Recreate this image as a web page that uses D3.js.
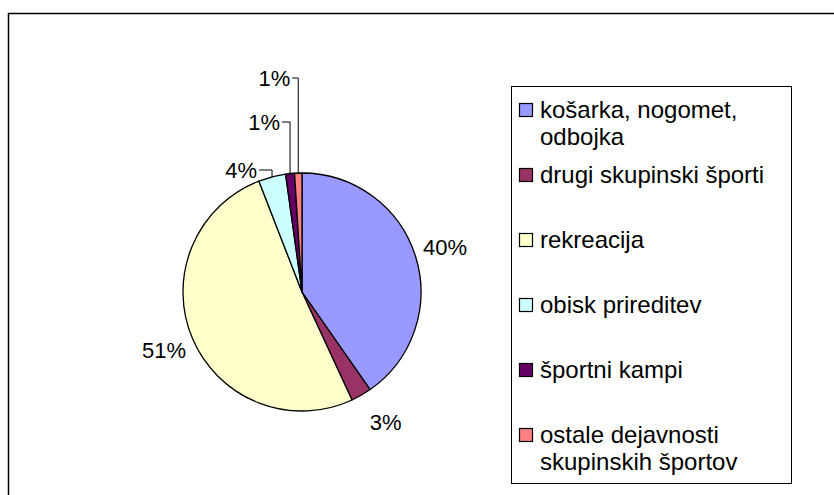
<!DOCTYPE html>
<html>
<head>
<meta charset="utf-8">
<script src="https://cdn.jsdelivr.net/npm/d3@7"></script>
<style>
  body { margin: 0; background: #fff; }
  svg text { font-family: "Liberation Sans", Arial, sans-serif; fill: #000; }
</style>
</head>
<body>
<svg id="chart" width="834" height="495"></svg>
<script>
// categories and shares (percent)
var categories = [
  "košarka, nogomet, odbojka",
  "drugi skupinski športi",
  "rekreacija",
  "obisk prireditev",
  "športni kampi",
  "ostale dejavnosti skupinskih športov"
];
var legendLines = [
  ["košarka, nogomet,", "odbojka"],
  ["drugi skupinski športi"],
  ["rekreacija"],
  ["obisk prireditev"],
  ["športni kampi"],
  ["ostale dejavnosti", "skupinskih športov"]
];
var shares = [40.3, 2.8, 51.0, 3.7, 1.2, 1.0];
var colors = ["#9999FF", "#993366", "#FFFFCC", "#CCFFFF", "#660066", "#FF8080"];

var svg = d3.select("#chart");

// outer chart border (open on right / bottom, cut by the picture)
svg.append("path")
  .attr("d", "M8.5,495V13.5H834")
  .attr("fill", "none")
  .attr("stroke", "#000")
  .attr("stroke-width", 1.5);

var cx = 302, cy = 292, r = 119;

var pie = d3.pie().sort(null).value(function(d){ return d; });
var arcs = pie(shares);
var arc = d3.arc().innerRadius(0).outerRadius(r);
var labelArc = d3.arc().innerRadius(150).outerRadius(150);
var edgeArc = d3.arc().innerRadius(r).outerRadius(r);

var g = svg.append("g").attr("transform", "translate(" + cx + "," + cy + ")");

g.selectAll("path.slice")
  .data(arcs)
  .enter().append("path")
  .attr("class", "slice")
  .attr("d", arc)
  .attr("fill", function(d, i){ return colors[i]; })
  .attr("stroke", "#000")
  .attr("stroke-width", 1.3)
  .attr("stroke-linejoin", "round");

// small slices at the top get labels pulled up with leader lines
var pulled = { 3: [-122, 13], 4: [-170, 8], 5: [-214, 6] };
var nudge = { 1: [9, 0] };

arcs.forEach(function(d, i) {
  var txt = Math.round(d.data) + "%";
  if (pulled[i] !== undefined) {
    var p = edgeArc.centroid(d);
    var ly = pulled[i][0];
    var right = p[0] - pulled[i][1];
    g.append("text")
      .attr("x", right - 2)
      .attr("y", ly)
      .attr("dy", "0.35em")
      .attr("text-anchor", "end")
      .style("font-size", "22px")
      .text(txt);
    g.append("path")
      .attr("d", "M" + right + "," + ly + "H" + p[0] + "V" + p[1])
      .attr("fill", "none")
      .attr("stroke", "#000")
      .attr("stroke-width", 1);
  } else {
    var c = labelArc.centroid(d);
    var n = nudge[i] || [0, 0];
    g.append("text")
      .attr("x", c[0] + n[0])
      .attr("y", c[1] + n[1])
      .attr("dy", "0.35em")
      .attr("text-anchor", "middle")
      .style("font-size", "22px")
      .text(txt);
  }
});

// legend
var lx = 511.5, ly0 = 86.5, lw = 280, lh = 397;
svg.append("rect")
  .attr("x", lx).attr("y", ly0)
  .attr("width", lw).attr("height", lh)
  .attr("fill", "#fff")
  .attr("stroke", "#000")
  .attr("stroke-width", 1);

var ly = d3.scaleLinear().domain([0, categories.length - 1]).range([110, 435]);

var items = svg.selectAll("g.item")
  .data(categories)
  .enter().append("g")
  .attr("class", "item")
  .attr("transform", function(d, i){ return "translate(519," + ly(i) + ")"; });

items.append("rect")
  .attr("x", 0.5).attr("y", -6.5)
  .attr("width", 13).attr("height", 13)
  .attr("fill", function(d, i){ return colors[i]; })
  .attr("stroke", "#000")
  .attr("stroke-width", 1.2);

items.append("text")
  .attr("x", 21)
  .style("font-size", "24px")
  .selectAll("tspan")
  .data(function(d, i){ return legendLines[i]; })
  .enter().append("tspan")
  .attr("x", 21)
  .attr("y", function(d, j){ return j * 27; })
  .attr("dy", "0.35em")
  .text(function(d){ return d; });
</script>
</body>
</html>
